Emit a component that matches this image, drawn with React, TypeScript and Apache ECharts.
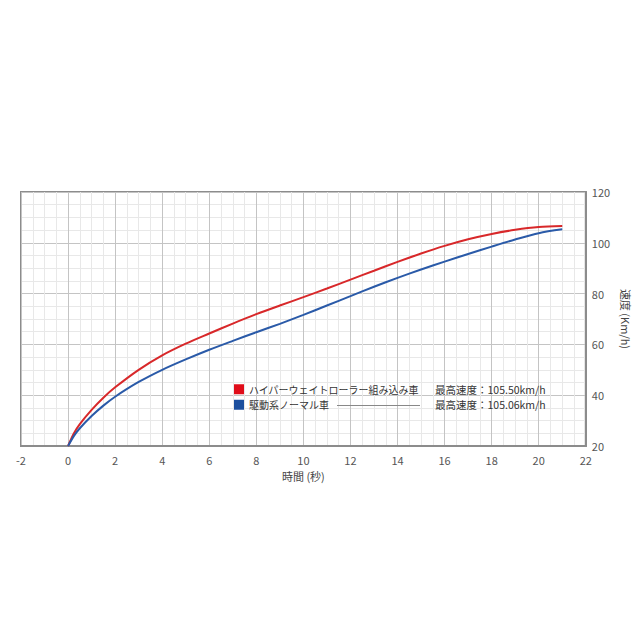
import React, { useEffect, useRef } from "react";
import * as echarts from "echarts";

const times = [0, 0.25, 0.5, 1, 1.5, 2, 3, 4, 5, 6, 7, 8, 9, 10, 11, 12, 13, 14, 15, 16, 17, 18, 19, 20, 21];
const redSpeeds = [20, 25, 28.6, 34.2, 39, 43.1, 50, 55.7, 60.3, 64.3, 68.2, 71.9, 75.3, 78.6, 82, 85.5, 89, 92.5, 95.8, 98.8, 101.4, 103.5, 105.1, 106.2, 106.6];
const blueSpeeds = [20, 24, 27, 31.8, 35.9, 39.4, 45.2, 50, 54.1, 57.9, 61.4, 64.8, 68.1, 71.6, 75.3, 79, 82.7, 86.2, 89.5, 92.6, 95.6, 98.5, 101.3, 103.8, 105.3];
const seriesNames = ["ハイパーウェイトローラー組み込み車", "駆動系ノーマル車"];
const maxSpeedLabels = ["最高速度：105.50km/h", "最高速度：105.06km/h"];
const xAxisName = "時間 (秒)";
const yAxisName = "速度 (Km/h)";

const FONT = "'Noto Sans CJK JP', 'Noto Sans', sans-serif";

export default function App() {
  const ref = useRef<HTMLDivElement>(null);
  useEffect(() => {
    if (!ref.current) return;
    const chart = echarts.init(ref.current, null, { renderer: "svg" });
    const toPairs = (ys: number[]) => times.map((t, i) => [t, ys[i]]);
    chart.setOption({
      animation: false,
      backgroundColor: "#ffffff",
      textStyle: { fontFamily: FONT },
      grid: {
        left: 21,
        right: 45,
        top: 192,
        bottom: 194,
        show: true,
        borderColor: "#8c8c8c",
        borderWidth: 2,
        backgroundColor: "#ffffff",
      },
      legend: {
        orient: "vertical",
        left: 229,
        top: 379,
        itemWidth: 10,
        itemHeight: 10,
        itemGap: 5,
        icon: "rect",
        data: [
          { name: seriesNames[0], itemStyle: { color: "#e00d1a" } },
          { name: seriesNames[1], itemStyle: { color: "#1c4f9e" } },
        ],
        formatter: (name: string) => {
          const i = seriesNames.indexOf(name);
          return `{n|${name}}{m|${maxSpeedLabels[i]}}`;
        },
        textStyle: {
          fontFamily: FONT,
          fontSize: 10,
          color: "#333",
          rich: {
            n: { width: 186, fontSize: 10, color: "#333", fontFamily: FONT },
            m: { fontSize: 10.5, color: "#333", fontFamily: FONT },
          },
        },
      },
      graphic: [
        {
          type: "line",
          shape: { x1: 337, y1: 405.5, x2: 420, y2: 405.5 },
          style: { stroke: "#888", lineWidth: 1 },
          z: 100,
        },
      ],
      xAxis: {
        type: "value",
        min: -2,
        max: 22,
        interval: 2,
        name: xAxisName,
        nameLocation: "middle",
        nameGap: 24,
        nameTextStyle: { fontSize: 11, color: "#444", fontFamily: FONT },
        axisLine: { show: true, onZero: false, lineStyle: { color: "#8c8c8c", width: 2 } },
        axisTick: { show: false },
        axisLabel: { color: "#555", fontSize: 11, margin: 8, showMinLabel: true, showMaxLabel: true },
        splitLine: { show: true, lineStyle: { color: "#c4c4c4", width: 1 } },
        minorTick: { show: false, splitNumber: 4 },
        minorSplitLine: { show: true, lineStyle: { color: "#e8e8e8", width: 1 } },
      },
      yAxis: {
        type: "value",
        position: "right",
        min: 20,
        max: 120,
        interval: 20,
        name: yAxisName,
        nameLocation: "middle",
        nameRotate: -90,
        nameGap: 30,
        nameTextStyle: { fontSize: 11, color: "#444", fontFamily: FONT },
        axisLine: { show: true, onZero: false, lineStyle: { color: "#8c8c8c", width: 2 } },
        axisTick: { show: false },
        axisLabel: { color: "#555", fontSize: 11, margin: 6, showMinLabel: true, showMaxLabel: true },
        splitLine: { show: true, lineStyle: { color: "#c4c4c4", width: 1 } },
        minorTick: { show: false, splitNumber: 4 },
        minorSplitLine: { show: true, lineStyle: { color: "#e8e8e8", width: 1 } },
      },
      series: [
        {
          name: seriesNames[0],
          type: "line",
          data: toPairs(redSpeeds),
          smooth: 0.3,
          showSymbol: false,
          lineStyle: { color: "#d8282a", width: 2 },
          itemStyle: { color: "#e00d1a" },
          z: 3,
        },
        {
          name: seriesNames[1],
          type: "line",
          data: toPairs(blueSpeeds),
          smooth: 0.3,
          showSymbol: false,
          lineStyle: { color: "#2a5aa8", width: 2 },
          itemStyle: { color: "#1c4f9e" },
          z: 4,
        },
      ],
    });
    return () => chart.dispose();
  }, []);
  return (
    <div
      ref={ref}
      style={{ position: "fixed", left: 0, top: 0, width: 640, height: 640, background: "#fff" }}
    />
  );
}
